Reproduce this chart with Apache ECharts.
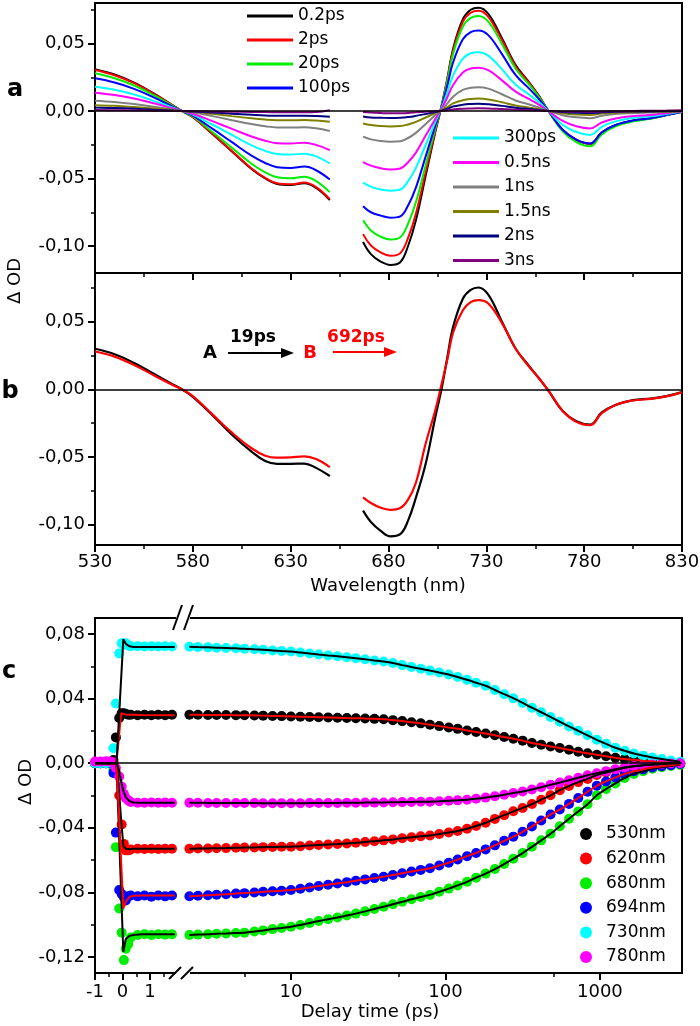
<!DOCTYPE html>
<html><head><meta charset="utf-8">
<script src="https://cdn.jsdelivr.net/npm/echarts@6/dist/echarts.min.js"></script>
<style>html,body{margin:0;padding:0;background:#fff}#c{width:700px;height:1026px}</style>
</head><body><div id="c"></div>
<script>
// ---------- Panel a / b : wavelengths ----------
const wlLeft  = [530,540,550,560,570,575,580,590,600,610,617,623,630,637,643,650];
const wlRight = [667,671,676,681,686,690,694,699,704,707,710,713,718,722,726,731,738,745,752,757,762,769,776,783,789,796,805,814,822,830];

// Panel a spectra (left part / right part)
const s02psL = [.0310,.0270,.0210,.0130,.0040,-.0005,-.0045,-.0170,-.0300,-.0430,-.0500,-.0540,-.0548,-.0535,-.0570,-.0660];
const s02psR = [-.0970,-.1060,-.1115,-.1140,-.1120,-.1000,-.0810,-.0480,-.0150,.0030,.0235,.0460,.0680,.0750,.0765,.0720,.0540,.0340,.0210,.0110,-.0005,-.0140,-.0214,-.0243,-.0160,-.0105,-.0071,-.0054,-.0030,-.0005];
const s2psL = [.0304,.0265,.0206,.0127,.0039,-.0005,-.0045,-.0168,-.0297,-.0426,-.0495,-.0535,-.0543,-.0530,-.0564,-.0653];
const s2psR = [-.0912,-.0996,-.1048,-.1072,-.1053,-.0940,-.0761,-.0451,-.0141,.0029,.0228,.0446,.0660,.0728,.0742,.0698,.0524,.0330,.0204,.0107,-.0005,-.0140,-.0214,-.0243,-.0160,-.0105,-.0071,-.0054,-.0030,-.0005];
const s20psL = [.0279,.0243,.0189,.0117,.0036,-.0005,-.0041,-.0155,-.0273,-.0391,-.0455,-.0491,-.0499,-.0487,-.0519,-.0601];
const s20psR = [-.0810,-.0885,-.0931,-.0952,-.0935,-.0835,-.0676,-.0401,-.0125,.0028,.0216,.0423,.0626,.0690,.0704,.0662,.0497,.0313,.0193,.0101,-.0005,-.0151,-.0231,-.0262,-.0173,-.0113,-.0077,-.0058,-.0032,-.0005];
const s100psL = [.0242,.0211,.0164,.0101,.0031,-.0004,-.0035,-.0131,-.0231,-.0331,-.0385,-.0416,-.0422,-.0412,-.0439,-.0508];
const s100psR = [-.0705,-.0750,-.0775,-.0790,-.0780,-.0700,-.0567,-.0336,-.0105,.0023,.0183,.0359,.0531,.0585,.0597,.0562,.0421,.0265,.0164,.0086,-.0005,-.0139,-.0212,-.0241,-.0158,-.0104,-.0070,-.0053,-.0030,-.0005];
const s300psL = [.0180,.0157,.0122,.0075,.0023,-.0003,-.0027,-.0100,-.0177,-.0254,-.0295,-.0319,-.0323,-.0316,-.0336,-.0389];
const s300psR = [-.0530,-.0560,-.0582,-.0590,-.0582,-.0520,-.0421,-.0250,-.0078,.0017,.0134,.0262,.0388,.0428,.0436,.0410,.0308,.0194,.0120,.0063,-.0004,-.0102,-.0156,-.0177,-.0117,-.0077,-.0052,-.0039,-.0022,-.0004];
const s05nsL = [.0136,.0119,.0092,.0057,.0018,-.0002,-.0020,-.0075,-.0132,-.0189,-.0220,-.0238,-.0241,-.0235,-.0251,-.0290];
const s05nsR = [-.0378,-.0405,-.0424,-.0433,-.0426,-.0380,-.0308,-.0182,-.0057,.0013,.0099,.0193,.0285,.0315,.0321,.0302,.0227,.0143,.0088,.0046,-.0003,-.0074,-.0113,-.0129,-.0085,-.0056,-.0038,-.0029,-.0016,-.0003];
const s1nsL = [.0076,.0066,.0051,.0032,.0010,-.0001,-.0010,-.0038,-.0068,-.0097,-.0113,-.0122,-.0123,-.0120,-.0128,-.0148];
const s1nsR = [-.0190,-.0210,-.0222,-.0227,-.0224,-.0200,-.0162,-.0096,-.0030,.0007,.0054,.0106,.0156,.0172,.0176,.0166,.0124,.0078,.0048,.0025,-.0001,-.0031,-.0047,-.0053,-.0035,-.0023,-.0016,-.0012,-.0007,-.0001];
const s15nsL = [.0043,.0038,.0029,.0018,.0006,-.0001,-.0006,-.0021,-.0038,-.0054,-.0063,-.0068,-.0069,-.0067,-.0071,-.0080];
const s15nsR = [-.0092,-.0104,-.0111,-.0114,-.0112,-.0100,-.0081,-.0048,-.0015,.0004,.0028,.0056,.0080,.0089,.0092,.0086,.0065,.0041,.0025,.0013,-.0001,-.0017,-.0026,-.0029,-.0019,-.0013,-.0009,-.0006,-.0004,-.0001];
const s2nsL = [.0025,.0022,.0017,.0010,.0003,0,-.0003,-.0011,-.0020,-.0028,-.0033,-.0035,-.0036,-.0035,-.0037,-.0043];
const s2nsR = [-.0040,-.0048,-.0050,-.0052,-.0050,-.0045,-.0036,-.0022,-.0007,.0002,.0016,.0033,.0047,.0052,.0054,.0050,.0038,.0024,.0015,.0008,0,-.0008,-.0013,-.0015,-.0010,-.0006,-.0004,-.0003,-.0002,0];
const s3nsL = [.0007,.0006,.0004,.0002,0,0,-.0001,-.0003,-.0005,-.0007,-.0008,-.0009,-.0010,-.0010,-.0008,.0005];
const s3nsR = [-.0008,-.0012,-.0015,-.0017,-.0016,-.0014,-.0010,-.0005,-.0001,0,.0006,.0012,.0017,.0019,.0020,.0019,.0014,.0009,.0006,.0003,0,-.0003,-.0004,-.0005,-.0003,-.0002,0,.0002,.0003,.0005];
const namesA = ['0.2ps','2ps','20ps','100ps','300ps','0.5ns','1ns','1.5ns','2ns','3ns'];
const colorsA = ['#000000','#ff0000','#00ee00','#0000ff','#00ffff','#ff00ff','#808080','#808000','#000080','#800080'];
const specL = [s02psL,s2psL,s20psL,s100psL,s300psL,s05nsL,s1nsL,s15nsL,s2nsL,s3nsL];
const specR = [s02psR,s2psR,s20psR,s100psR,s300psR,s05nsR,s1nsR,s15nsR,s2nsR,s3nsR];

// Panel b : species A and B
const specAL = [.0300,.0260,.0195,.0115,.0035,-.0005,-.0055,-.0190,-.0335,-.0460,-.0530,-.0550,-.0550,-.0548,-.0580,-.0640];
const specAR = [-.0896,-.0980,-.1045,-.1086,-.1070,-.0970,-.0800,-.0550,-.0200,-.0005,.0230,.0460,.0670,.0735,.0753,.0700,.0500,.0300,.0170,.0080,-.0015,-.0160,-.0235,-.0260,-.0170,-.0115,-.0080,-.0068,-.0050,-.0020];
const specBL = [.0280,.0242,.0180,.0105,.0030,-.0005,-.0050,-.0185,-.0320,-.0435,-.0490,-.0505,-.0502,-.0495,-.0515,-.0575];
const specBR = [-.0798,-.0840,-.0875,-.0890,-.0877,-.0815,-.0690,-.0400,-.0150,.0030,.0215,.0420,.0585,.0645,.0660,.0635,.0490,.0300,.0165,.0080,-.0015,-.0160,-.0240,-.0265,-.0175,-.0115,-.0082,-.0070,-.0052,-.0022];

// ---------- Panel c : kinetics ----------
const tLin = [-1,-0.8,-0.6,-0.45,-0.33,-0.24,-0.12,-0.03,0.05,0.12,0.21,0.3,0.55,0.8,1.05,1.3,1.55,1.8];
const tLog = [2.2,2.5,2.9,3.3,3.8,4.4,5,5.8,6.6,7.6,8.7,10,11.5,13.2,15.1,17.4,20,23,26.3,30.2,34.7,39.8,45.7,52.5,60.3,69.2,79.4,91.2,105,120,138,158,182,209,240,275,316,363,417,479,550,631,724,832,955,1096,1259,1445,1660,1905,2188,2512,2884,3311];
const tFitLin = [-1,-0.22,-0.15,-0.05,0.03,0.12,0.25,0.4,0.7,1.9];

const k530Lin = [0,0,0,0,0.002,0.016,0.028,0.031,0.031,0.0305,0.030,0.030,0.0298,0.030,0.0298,0.030,0.0298,0.030];
const k620Lin = [0,0,0,0,0,-0.006,-0.02,-0.038,-0.05,-0.054,-0.054,-0.0535,-0.053,-0.0532,-0.053,-0.0532,-0.053,-0.053];
const k680Lin = [0,0,0,0,-0.004,-0.052,-0.09,-0.105,-0.122,-0.115,-0.112,-0.108,-0.1065,-0.106,-0.1065,-0.106,-0.1062,-0.106];
const k694Lin = [0,0,0,0,-0.006,-0.043,-0.0786,-0.081,-0.083,-0.085,-0.0825,-0.082,-0.0825,-0.082,-0.0827,-0.082,-0.0825,-0.082];
const k730Lin = [0,0,0,0.0005,0.0093,0.037,0.068,0.0744,0.0735,0.0744,0.073,0.0725,0.0725,0.0723,0.0725,0.0723,0.0725,0.0723];
const k780Lin = [0.001,0.001,0.0012,0.001,0.0005,-0.003,-0.0083,-0.0145,-0.019,-0.0215,-0.023,-0.024,-0.0245,-0.0245,-0.0243,-0.0245,-0.0244,-0.0245];

const k530Log = [.0300,.0300,.0299,.0299,.0299,.0298,.0298,.0296,.0295,.0293,.0292,.0290,.0288,.0287,.0285,.0284,.0282,.0280,.0279,.0277,.0275,.0272,.0267,.0261,.0254,.0247,.0239,.0230,.0221,.0213,.0203,.0194,.0184,.0173,.0162,.0152,.0140,.0125,.0115,.0104,.0094,.0083,.0071,.0062,.0052,.0043,.0034,.0026,.0021,.0015,.0010,.0006,.0003,0];
const k620Log = [-.0530,-.0529,-.0528,-.0527,-.0526,-.0524,-.0523,-.0522,-.0520,-.0519,-.0518,-.0517,-.0514,-.0510,-.0507,-.0504,-.0501,-.0497,-.0493,-.0488,-.0483,-.0478,-.0472,-.0465,-.0459,-.0453,-.0448,-.0439,-.0429,-.0420,-.0406,-.0389,-.0369,-.0345,-.0322,-.0298,-.0277,-.0253,-.0226,-.0199,-.0167,-.0141,-.0117,-.0097,-.0073,-.0057,-.0042,-.0028,-.0019,-.0013,-.0008,-.0005,-.0002,0];
const k680Log = [-.1065,-.1062,-.1060,-.1057,-.1055,-.1052,-.1050,-.1043,-.1036,-.1028,-.1021,-.1013,-.1002,-.0990,-.0978,-.0967,-.0956,-.0944,-.0932,-.0918,-.0903,-.0889,-.0874,-.0859,-.0843,-.0829,-.0816,-.0797,-.0777,-.0757,-.0735,-.0709,-.0684,-.0656,-.0625,-.0592,-.0557,-.0518,-.0478,-.0437,-.0391,-.0344,-.0299,-.0254,-.0199,-.0160,-.0125,-.0091,-.0066,-.0050,-.0034,-.0025,-.0017,-.0010];
const k694Log = [-.0824,-.0821,-.0818,-.0815,-.0812,-.0808,-.0805,-.0801,-.0797,-.0793,-.0790,-.0786,-.0778,-.0770,-.0761,-.0753,-.0745,-.0737,-.0728,-.0720,-.0712,-.0703,-.0693,-.0682,-.0671,-.0661,-.0651,-.0634,-.0617,-.0597,-.0576,-.0556,-.0534,-.0509,-.0481,-.0455,-.0425,-.0392,-.0355,-.0318,-.0287,-.0252,-.0215,-.0177,-.0140,-.0113,-.0088,-.0067,-.0050,-.0038,-.0027,-.0019,-.0012,-.0005];
const k730Log = [.0722,.0720,.0718,.0716,.0714,.0712,.0710,.0706,.0703,.0699,.0695,.0692,.0686,.0680,.0674,.0668,.0663,.0657,.0651,.0644,.0637,.0630,.0621,.0608,.0596,.0585,.0574,.0562,.0550,.0534,.0517,.0499,.0480,.0454,.0428,.0403,.0374,.0344,.0316,.0287,.0257,.0228,.0201,.0173,.0145,.0120,.0096,.0077,.0060,.0047,.0035,.0026,.0017,.0009];
const k780Log = [-.0245,-.0245,-.0246,-.0246,-.0246,-.0247,-.0247,-.0247,-.0248,-.0248,-.0248,-.0248,-.0248,-.0247,-.0247,-.0246,-.0246,-.0245,-.0245,-.0244,-.0244,-.0243,-.0242,-.0241,-.0240,-.0239,-.0238,-.0236,-.0233,-.0230,-.0226,-.0220,-.0213,-.0205,-.0195,-.0185,-.0175,-.0163,-.0149,-.0134,-.0120,-.0105,-.0090,-.0075,-.0062,-.0049,-.0037,-.0026,-.0018,-.0013,-.0008,-.0005,-.0002,0];

const f530Lin = [0,0,0.0127,0.031,0.0305,0.0302,0.030,0.030,0.0299,0.0298];
const f620Lin = [0,0,-0.012,-0.035,-0.051,-0.053,-0.0533,-0.053,-0.053,-0.053];
const f680Lin = [0,0,-0.033,-0.080,-0.1168,-0.109,-0.107,-0.1065,-0.106,-0.106];
const f694Lin = [0,0,-0.025,-0.061,-0.090,-0.086,-0.0828,-0.0822,-0.082,-0.082];
const f730Lin = [0,0,0.0215,0.0523,0.0769,0.074,0.0725,0.072,0.072,0.0721];
const f780Lin = [0,0,-0.003,-0.011,-0.017,-0.021,-0.0235,-0.0243,-0.0245,-0.0245];

const namesC = ['530nm','620nm','680nm','694nm','730nm','780nm'];
const colorsC = ['#000000','#ff0000','#00ee00','#0000ff','#00ffff','#ff00ff'];
const fitColorsC = ['#ff0000','#000000','#000000','#ff0000','#000000','#000000'];
const kinLin = [k530Lin,k620Lin,k680Lin,k694Lin,k730Lin,k780Lin];
const kinLog = [k530Log,k620Log,k680Log,k694Log,k730Log,k780Log];
const fitLin = [f530Lin,f620Lin,f680Lin,f694Lin,f730Lin,f780Lin];

// tick values
const xMajAB = [530,580,630,680,730,780,830];
const xMinAB = [555,605,655,705,755,805];
const yMajAB = [-0.10,-0.05,0,0.05];
const yMinAB = [-0.075,-0.025,0.025,0.075];
const xMajLin = [-1,0,1];
const xMinLin = [-0.5,0.5,1.5];
const xMajLog = [10,100,1000];
const xMinLog = [5,50,500];
const yMajC = [-0.12,-0.08,-0.04,0,0.04,0.08];
const yMinC = [-0.10,-0.06,-0.02,0.02,0.06];

// ---------- build ----------
const FONT = 'DejaVu Sans';
const BLK = {color:'#000', width:2};
const fmt2 = v => (Math.abs(v) < 1e-9 ? 0 : v).toFixed(2).replace('.', ',');

function joinSpec(L, R) {
  const d = wlLeft.map((w, i) => [w, L[i]]);
  d.push([(wlLeft[wlLeft.length-1] + wlRight[0]) / 2, null]);
  return d.concat(wlRight.map((w, i) => [w, R[i]]));
}
function pair(ts, vs) { return ts.map((t, i) => [t, vs[i]]); }

function majAxis(grid, pos, type, min, max, ticks, showLabel, fmt, margin) {
  return {gridIndex:grid, type, min, max, position:pos, logBase:10,
    axisLine:{show:true, onZero:false, lineStyle:BLK},
    axisTick:{show:true, inside:false, length:7, lineStyle:{color:'#000', width:2}, customValues:ticks},
    axisLabel:{show:showLabel, customValues:ticks, formatter:fmt, margin:margin, color:'#000', fontSize:18, fontFamily:FONT},
    splitLine:{show:false}, minorTick:{show:false}, minorSplitLine:{show:false}};
}
function minAxis(grid, pos, type, min, max, ticks) {
  return {gridIndex:grid, type, min, max, position:pos, logBase:10,
    axisLine:{show:false, onZero:false},
    axisTick:{show:true, inside:false, length:4, lineStyle:{color:'#000', width:1.5}, customValues:ticks},
    axisLabel:{show:false}, splitLine:{show:false}};
}
function frameAxis(grid, pos, type, min, max) {
  return {gridIndex:grid, type, min, max, position:pos, logBase:10,
    axisLine:{show:true, onZero:false, lineStyle:BLK},
    axisTick:{show:false}, axisLabel:{show:false}, splitLine:{show:false}};
}

const xAxis = [
  majAxis(0,'bottom','value',530,830,xMajAB,false,null,8),   //0
  minAxis(0,'bottom','value',530,830,xMinAB),                //1
  frameAxis(0,'top','value',530,830),                        //2
  majAxis(1,'bottom','value',530,830,xMajAB,true,v=>String(v),8), //3
  minAxis(1,'bottom','value',530,830,xMinAB),                //4
  frameAxis(1,'top','value',530,830),                        //5
  majAxis(2,'bottom','value',-1,2.2,xMajLin,true,v=>String(Math.round(v)),10), //6
  minAxis(2,'bottom','value',-1,2.2,xMinLin),                //7
  frameAxis(2,'top','value',-1,2.2),                         //8
  majAxis(3,'bottom','log',2,3400,xMajLog,true,v=>String(Math.round(v)),10), //9
  minAxis(3,'bottom','log',2,3400,xMinLog),                  //10
  frameAxis(3,'top','log',2,3400)                            //11
];
const yAxis = [
  majAxis(0,'left','value',-0.12,0.08,yMajAB,true,fmt2,10),  //0
  minAxis(0,'left','value',-0.12,0.08,yMinAB),               //1
  frameAxis(0,'right','value',-0.12,0.08),                   //2
  majAxis(1,'left','value',-0.115,0.086,yMajAB,true,fmt2,10),//3
  minAxis(1,'left','value',-0.115,0.086,yMinAB),             //4
  frameAxis(1,'right','value',-0.115,0.086),                 //5
  majAxis(2,'left','value',-0.13,0.09,yMajC,true,fmt2,10),   //6
  minAxis(2,'left','value',-0.13,0.09,yMinC),                //7
  frameAxis(3,'right','value',-0.13,0.09)                    //8
];

const zeroLine = {silent:true, symbol:'none', label:{show:false}, animation:false,
  lineStyle:{color:'#000', width:1.5, type:'solid'}, data:[{yAxis:0}]};

const series = [];
namesA.forEach((n, i) => {
  series.push({type:'line', name:n, xAxisIndex:0, yAxisIndex:0, data:joinSpec(specL[i], specR[i]),
    showSymbol:false, smooth:0.4, connectNulls:false, color:colorsA[i], lineStyle:{width:2},
    markLine: i === 0 ? zeroLine : undefined});
});
series.push({type:'line', name:'A', xAxisIndex:3, yAxisIndex:3, data:joinSpec(specAL, specAR),
  showSymbol:false, smooth:0.4, color:'#000', lineStyle:{width:2.2}, markLine:zeroLine});
series.push({type:'line', name:'B', xAxisIndex:3, yAxisIndex:3, data:joinSpec(specBL, specBR),
  showSymbol:false, smooth:0.4, color:'#ff0000', lineStyle:{width:2.2}});

namesC.forEach((n, i) => {
  series.push({type:'scatter', name:n, xAxisIndex:6, yAxisIndex:6, data:pair(tLin, kinLin[i]),
    symbolSize:10, itemStyle:{color:colorsC[i], opacity:1}, z:2, markLine: i === 0 ? zeroLine : undefined});
  series.push({type:'scatter', name:n, xAxisIndex:9, yAxisIndex:8, data:pair(tLog, kinLog[i]),
    symbolSize:10, itemStyle:{color:colorsC[i], opacity:1}, z:2, markLine: i === 0 ? zeroLine : undefined});
});
namesC.forEach((n, i) => {
  series.push({type:'line', name:'fit ' + n, xAxisIndex:6, yAxisIndex:6, data:pair(tFitLin, fitLin[i]),
    showSymbol:false, color:fitColorsC[i], lineStyle:{width:2}, z:3});
  series.push({type:'line', name:'fit ' + n, xAxisIndex:9, yAxisIndex:8, data:pair(tLog, kinLog[i]),
    showSymbol:false, smooth:0.3, color:fitColorsC[i], lineStyle:{width:2}, z:3});
});

function txt(x, y, s, size, opt) {
  opt = opt || {};
  return {type:'text', x, y, rotation:opt.rot || 0, z:100,
    style:{text:s, fill:opt.color || '#000', font:(opt.bold ? 'bold ' : '') + size + 'px "' + FONT + '"',
      align:'center', verticalAlign:'middle'}};
}
function arrow(x1, x2, y, color) {
  return [
    {type:'line', z:100, shape:{x1, y1:y, x2:x2 - 10, y2:y}, style:{stroke:color, lineWidth:2}},
    {type:'polygon', z:100, shape:{points:[[x2 - 13, y - 5], [x2, y], [x2 - 13, y + 5]]}, style:{fill:color}}
  ];
}
const graphic = [
  txt(15, 90, 'a', 24, {bold:true}),
  txt(10, 392, 'b', 24, {bold:true}),
  txt(9, 672, 'c', 24, {bold:true}),
  txt(15, 281, 'Δ OD', 18, {rot:Math.PI/2}),
  txt(26, 782, 'Δ OD', 18, {rot:Math.PI/2}),
  txt(388, 586, 'Wavelength (nm)', 18),
  txt(370, 1012, 'Delay time (ps)', 18),
  txt(210, 353, 'A', 18, {bold:true}),
  txt(253, 338, '19ps', 17, {bold:true}),
  txt(310, 353, 'B', 18, {bold:true, color:'#ff0000'}),
  txt(356, 338, '692ps', 17, {bold:true, color:'#ff0000'}),
  ...arrow(228, 294, 353, '#000'),
  ...arrow(333, 397, 352, '#ff0000'),
  // axis-break marks
  {type:'rect', z:99, shape:{x:176, y:613, width:14, height:10}, style:{fill:'#fff'}},
  {type:'line', z:100, shape:{x1:173, y1:630, x2:182, y2:605}, style:{stroke:'#000', lineWidth:2}},
  {type:'line', z:100, shape:{x1:184, y1:630, x2:193, y2:605}, style:{stroke:'#000', lineWidth:2}},
  {type:'rect', z:99, shape:{x:176, y:968, width:14, height:10}, style:{fill:'#fff'}},
  {type:'line', z:100, shape:{x1:169, y1:979, x2:181, y2:967}, style:{stroke:'#000', lineWidth:2}},
  {type:'line', z:100, shape:{x1:181, y1:979, x2:193, y2:967}, style:{stroke:'#000', lineWidth:2}}
];

const legTxt = {fontSize:17, fontFamily:FONT, color:'#000', lineHeight:24};
const option = {
  animation:false,
  backgroundColor:'#fff',
  grid:[
    {left:95, top:3, width:587, height:270, containLabel:false, outerBoundsMode:'none'},
    {left:95, top:273, width:587, height:272, containLabel:false, outerBoundsMode:'none'},
    {left:95, top:618, width:88, height:355, containLabel:false, outerBoundsMode:'none'},
    {left:183, top:618, width:499, height:355, containLabel:false, outerBoundsMode:'none'}
  ],
  xAxis, yAxis, series, graphic,
  legend:[
    {data:namesA.slice(0,4), orient:'vertical', left:247, top:4, padding:0, itemGap:0,
      icon:'rect', itemWidth:46, itemHeight:3, textStyle:legTxt, selectedMode:false},
    {data:namesA.slice(4), orient:'vertical', left:453, top:126, padding:0, itemGap:0.5,
      icon:'rect', itemWidth:46, itemHeight:3, textStyle:legTxt, selectedMode:false},
    {data:namesC, orient:'vertical', left:580, top:822, padding:0, itemGap:0.6,
      icon:'circle', itemWidth:30, itemHeight:12, textStyle:legTxt, selectedMode:false,
      itemStyle:{opacity:1}}
  ]
};
const chart = echarts.init(document.getElementById('c'), null, {renderer:'canvas'});
chart.setOption(option);
</script></body></html>
